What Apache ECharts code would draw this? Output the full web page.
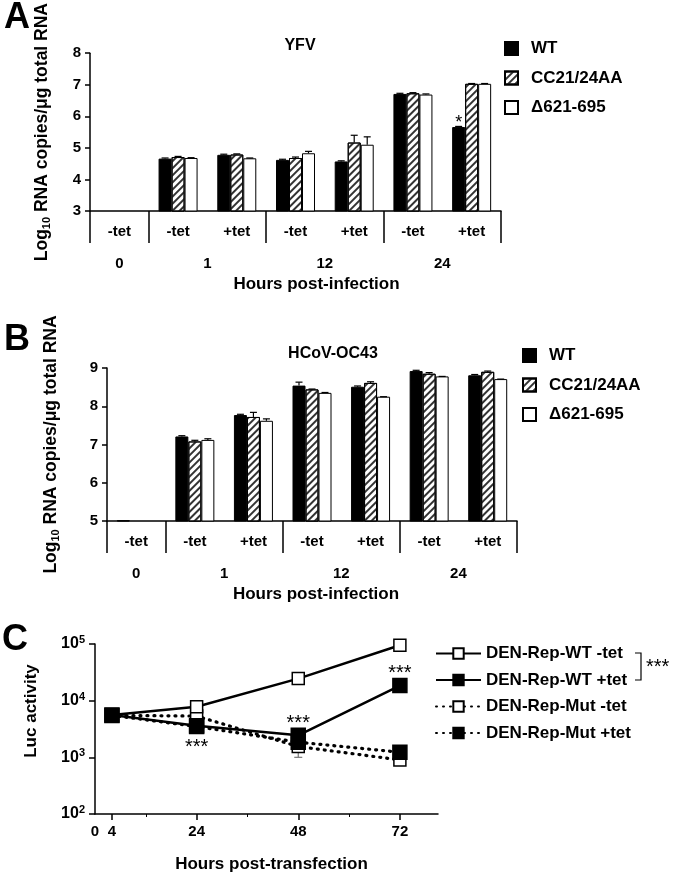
<!DOCTYPE html>
<html>
<head>
<meta charset="utf-8">
<script src="https://cdn.jsdelivr.net/npm/echarts@6/dist/echarts.min.js"></script>
<style>
  html, body { margin: 0; padding: 0; background: #fff; }
  #chart { width: 680px; height: 874px; }
</style>
</head>
<body>
<div id="chart"></div>
<script>
// ---- data ----
const catLabels = ["-tet", "-tet", "+tet", "-tet", "+tet", "-tet", "+tet"];
const groupLabels = ["0", "1", "12", "24"];
const groupEdges = [0, 1, 3, 5, 7];
const groupMids = [0.5, 2, 4, 6];

// panel A: YFV
const yfvWT = [null, 4.66, 4.78, 4.62, 4.57, 6.71, 5.66];
const yfvCC = [null, 4.71, 4.79, 4.68, 5.17, 6.73, 7.03];
const yfvDel = [null, 4.68, 4.67, 4.83, 5.10, 6.69, 7.03];
const yfvWTErr = [null, 0.02, 0.02, 0.02, 0.02, 0.02, 0.02];
const yfvCCErr = [null, 0.02, 0.02, 0.03, 0.23, 0.02, 0.01];
const yfvDelErr = [null, 0.01, 0.01, 0.06, 0.25, 0.02, 0.01];
const yfvSig = ["", "", "", "", "", "", "*"];

// panel B: HCoV-OC43
const hcovWT = [5.02, 7.21, 7.77, 8.54, 8.51, 8.92, 8.81];
const hcovCC = [null, 7.08, 7.72, 8.44, 8.61, 8.85, 8.90];
const hcovDel = [null, 7.12, 7.62, 8.35, 8.25, 8.78, 8.71];
const hcovWTErr = [null, 0.02, 0.02, 0.09, 0.02, 0.02, 0.02];
const hcovCCErr = [null, 0.03, 0.12, 0.01, 0.03, 0.03, 0.02];
const hcovDelErr = [null, 0.03, 0.05, 0.01, 0.0, 0.0, 0.0];

// panel C: replicon luciferase
const hoursC = [4, 24, 48, 72];
const hourTicks = [0, 4, 24, 48, 72];
const hourMinorTicks = [12, 36, 60];
const wtMinus = [5600, 7800, 24500, 95000];
const wtPlus = [5600, 3600, 2450, 18500];
const mutMinus = [5500, 5350, 1550, 900];
const mutPlus = [5500, 3500, 1850, 1230];
const mutMinusErrLow = [null, null, 1000, null];
const starsC = ["", "***", "***", "***"];

const FONT = "'Liberation Sans', Arial, sans-serif";
const black = "#000";
const axisLine = { show: true, lineStyle: { color: black, width: 1.5 } };
const tickLabel = { fontSize: 15, fontWeight: "bold", color: black, fontFamily: FONT };

// diagonal hatch for CC21/24AA
const hatch = {
  symbol: "rect",
  symbolSize: 1,
  color: "#333",
  dashArrayX: [1, 0],
  dashArrayY: [1.2, 2.6],
  rotation: -Math.PI / 4
};

function barSeries(name, xi, yi, data, kind, extra) {
  const itemStyle = { borderColor: black, borderWidth: 1 };
  if (kind === "wt") itemStyle.color = black;
  if (kind === "cc") { itemStyle.color = "#fff"; itemStyle.decal = hatch; }
  if (kind === "del") itemStyle.color = "#fff";
  return Object.assign({
    name, type: "bar", xAxisIndex: xi, yAxisIndex: yi, data,
    barWidth: 13, barGap: "0%", itemStyle
  }, extra || {});
}

// error caps drawn through the axes of the same grid
function errSeries(xi, yi, vals, errs, slot) {
  const data = [];
  vals.forEach((v, i) => {
    if (v != null && errs[i] != null) data.push([i, v, v + errs[i]]);
  });
  return {
    type: "custom", xAxisIndex: xi, yAxisIndex: yi, data, z: 3,
    renderItem(params, api) {
      const top = api.coord([api.value(0), api.value(2)]);
      const bot = api.coord([api.value(0), api.value(1)]);
      const x = top[0] + slot * 13;
      const st = { stroke: black, lineWidth: 1.2 };
      return {
        type: "group",
        children: [
          { type: "line", shape: { x1: x, y1: bot[1], x2: x, y2: top[1] }, style: st },
          { type: "line", shape: { x1: x - 3.5, y1: top[1], x2: x + 3.5, y2: top[1] }, style: st }
        ]
      };
    }
  };
}

function catAxis(gi) {
  return {
    gridIndex: gi, type: "category", position: "bottom", data: catLabels,
    axisLine: { show: false }, axisTick: { show: false },
    axisLabel: Object.assign({ margin: 13 }, tickLabel)
  };
}

function groupAxis(gi, shift) {
  return {
    gridIndex: gi, type: "value", position: "bottom", min: 0, max: 7,
    axisLine: axisLine,
    axisTick: { show: true, customValues: groupEdges, length: 32, lineStyle: { color: black, width: 1.5 } },
    axisLabel: Object.assign({
      margin: 45, customValues: groupMids,
      formatter: v => groupLabels[groupMids.indexOf(v)]
    }, tickLabel),
    splitLine: { show: false },
    name: "Hours post-infection", nameLocation: "middle", nameGap: 65,
    nameTextStyle: { fontSize: 17, fontWeight: "bold", color: black, fontFamily: FONT, padding: [0, 0, 0, shift] }
  };
}

const logName = "Log{sub|10} RNA copies/μg total RNA";
const nameStyle = {
  fontSize: 17.5, fontWeight: "bold", color: black, fontFamily: FONT,
  rich: { sub: { fontSize: 11, fontWeight: "bold", fontFamily: FONT, padding: [8, 0, 0, 0] } }
};

function barYAxis(gi, min, max, gap) {
  return {
    gridIndex: gi, type: "value", min, max, interval: 1,
    axisLine: axisLine,
    axisTick: { show: true, length: 5, lineStyle: { color: black, width: 1.5 } },
    axisLabel: Object.assign({ margin: 9 }, tickLabel),
    splitLine: { show: false },
    name: logName, nameLocation: "middle", nameRotate: 90, nameGap: gap,
    nameTextStyle: nameStyle
  };
}

const barLegendNames = ["WT", "CC21/24AA", "Δ621-695"];
function barLegend(left, top) {
  return {
    data: barLegendNames, orient: "vertical", left, top, padding: 0,
    icon: "rect", itemWidth: 13, itemHeight: 13, itemGap: 12.5,
    selectedMode: false,
    textStyle: { fontSize: 17, fontWeight: "bold", color: black, fontFamily: FONT, padding: [0, 0, 0, 8] }
  };
}

function lineSeries(name, data, filled, dotted, extraData) {
  return {
    name, type: "line", xAxisIndex: 4, yAxisIndex: 2,
    data: data.map((v, i) => extraData ? Object.assign({ value: [hoursC[i], v] }, extraData(i)) : [hoursC[i], v]),
    symbol: "rect", symbolSize: filled ? 14 : 12,
    lineStyle: dotted
      ? { color: black, width: 3.2, type: [1, 6], cap: "round" }
      : { color: black, width: 2.5 },
    itemStyle: { color: filled ? black : "#fff", borderColor: black, borderWidth: 1.5 }
  };
}

const option = {
  animation: false,
  backgroundColor: "#fff",
  textStyle: { fontFamily: FONT },
  grid: [
    { left: 90, top: 32, width: 411, height: 179 },
    { left: 107, top: 368, width: 410, height: 153 },
    { left: 95, top: 644, width: 343, height: 175 }
  ],
  xAxis: [
    catAxis(0),
    groupAxis(0, 42),
    catAxis(1),
    groupAxis(1, 8),
    {
      gridIndex: 2, type: "value", min: 0, max: 81,
      axisLine: axisLine,
      axisTick: { show: true, customValues: hoursC, length: 6, lineStyle: { color: black, width: 1.5 } },
      axisLabel: Object.assign({ margin: 10, customValues: hourTicks }, tickLabel),
      splitLine: { show: false },
      name: "Hours post-transfection", nameLocation: "middle", nameGap: 42,
      nameTextStyle: { fontSize: 17, fontWeight: "bold", color: black, fontFamily: FONT, padding: [0, 0, 0, 10] }
    },
    {
      gridIndex: 2, type: "value", min: 0, max: 81, position: "bottom",
      axisLine: { show: false },
      axisTick: { show: true, customValues: hourMinorTicks, length: 3, lineStyle: { color: black, width: 1 } },
      axisLabel: { show: false }, splitLine: { show: false }
    }
  ],
  yAxis: [
    barYAxis(0, 3, 8, 38),
    barYAxis(1, 5, 9, 46),
    {
      gridIndex: 2, type: "log", logBase: 10, min: 100, max: 100000,
      axisLine: axisLine,
      axisTick: { show: true, length: 6, lineStyle: { color: black, width: 1.5 } },
      axisLabel: {
        margin: 10,
        formatter: v => "{b|10}{s|" + Math.round(Math.log10(v)) + "}",
        rich: {
          b: { fontSize: 16, fontWeight: "bold", color: black, fontFamily: FONT },
          s: { fontSize: 11, fontWeight: "bold", color: black, fontFamily: FONT, padding: [0, 0, 8, 0] }
        }
      },
      splitLine: { show: false },
      name: "Luc activity", nameLocation: "middle", nameRotate: 90, nameGap: 55,
      nameTextStyle: { fontSize: 17, fontWeight: "bold", color: black, fontFamily: FONT, padding: [0, 0, 0, 36] }
    }
  ],
  legend: [
    barLegend(504, 40),
    barLegend(522, 347),
    {
      data: ["DEN-Rep-WT -tet", "DEN-Rep-WT +tet", "DEN-Rep-Mut -tet", "DEN-Rep-Mut +tet"],
      orient: "vertical", left: 435, top: 645, padding: 0,
      itemWidth: 45, itemHeight: 13, itemGap: 9.5,
      selectedMode: false,
      textStyle: { fontSize: 17, fontWeight: "bold", color: black, fontFamily: FONT }
    }
  ],
  series: [
    barSeries("WT", 0, 0, yfvWT, "wt", {
      label: { show: true, position: "top", distance: -5, formatter: p => yfvSig[p.dataIndex], fontSize: 18, color: black }
    }),
    barSeries("CC21/24AA", 0, 0, yfvCC, "cc"),
    barSeries("Δ621-695", 0, 0, yfvDel, "del"),
    errSeries(0, 0, yfvWT, yfvWTErr, -1),
    errSeries(0, 0, yfvCC, yfvCCErr, 0),
    errSeries(0, 0, yfvDel, yfvDelErr, 1),

    barSeries("WT", 2, 1, hcovWT, "wt"),
    barSeries("CC21/24AA", 2, 1, hcovCC, "cc"),
    barSeries("Δ621-695", 2, 1, hcovDel, "del"),
    errSeries(2, 1, hcovWT, hcovWTErr, -1),
    errSeries(2, 1, hcovCC, hcovCCErr, 0),
    errSeries(2, 1, hcovDel, hcovDelErr, 1),

    {
      type: "custom", xAxisIndex: 4, yAxisIndex: 2, z: 1,
      data: mutMinus.map((v, i) => [hoursC[i], v, mutMinusErrLow[i]]).filter(d => d[2] != null),
      renderItem(params, api) {
        const a = api.coord([api.value(0), api.value(1)]);
        const b = api.coord([api.value(0), api.value(2)]);
        const st = { stroke: "#777", lineWidth: 1.2 };
        return {
          type: "group",
          children: [
            { type: "line", shape: { x1: a[0], y1: a[1], x2: b[0], y2: b[1] }, style: st },
            { type: "line", shape: { x1: b[0] - 4, y1: b[1], x2: b[0] + 4, y2: b[1] }, style: st }
          ]
        };
      }
    },
    lineSeries("DEN-Rep-Mut -tet", mutMinus, false, true),
    lineSeries("DEN-Rep-Mut +tet", mutPlus, true, true),
    lineSeries("DEN-Rep-WT -tet", wtMinus, false, false),
    lineSeries("DEN-Rep-WT +tet", wtPlus, true, false, i => ({
      label: {
        show: !!starsC[i], formatter: starsC[i],
        position: i === 1 ? "bottom" : "top", distance: i === 1 ? 4 : -6,
        fontSize: 20, color: black
      }
    }))
  ],
  graphic: [
    { type: "text", left: 4, top: 0, style: { text: "A", font: "bold 36px " + FONT, fill: black } },
    { type: "text", left: 4, top: 322, style: { text: "B", font: "bold 36px " + FONT, fill: black } },
    { type: "text", left: 2, top: 622, style: { text: "C", font: "bold 36px " + FONT, fill: black } },
    { type: "text", x: 300, y: 46, style: { text: "YFV", font: "bold 16px " + FONT, fill: black, align: "center", verticalAlign: "middle" } },
    { type: "text", x: 333, y: 354, style: { text: "HCoV-OC43", font: "bold 16px " + FONT, fill: black, align: "center", verticalAlign: "middle" } },
    { type: "polyline", shape: { points: [[635, 653], [641, 653], [641, 680], [635, 680]] }, style: { stroke: black, lineWidth: 1.2, fill: null } },
    { type: "text", x: 646, y: 667, style: { text: "***", font: "20px " + FONT, fill: black, verticalAlign: "middle" } }
  ]
};

const myChart = echarts.init(document.getElementById("chart"));
myChart.setOption(option);
</script>
</body>
</html>
